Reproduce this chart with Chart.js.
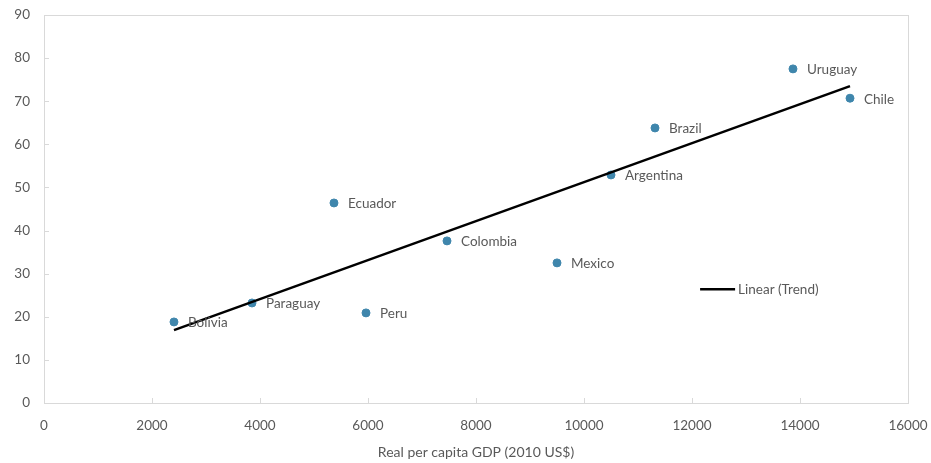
<!DOCTYPE html>
<html>
<head>
<meta charset="utf-8">
<script src="https://cdn.jsdelivr.net/npm/chart.js@4.4.0/dist/chart.umd.min.js"></script>
<style>
  html, body { margin: 0; padding: 0; background: #fff; }
  #wrap { width: 931px; height: 463px; position: relative; }
</style>
</head>
<body>
<div id="wrap"><canvas id="chart"></canvas></div>
<script>
// Country scatter: GDP per capita vs. indicator
const countries = ['Bolivia', 'Paraguay', 'Ecuador', 'Peru', 'Colombia', 'Mexico', 'Argentina', 'Brazil', 'Uruguay', 'Chile'];
const gdp       = [2407, 3852, 5370, 5963, 7463, 9500, 10500, 11315, 13870, 14926];
const values    = [18.8, 23.2, 46.4, 20.9, 37.6, 32.5, 52.9, 63.8, 77.5, 70.7];

// Linear trend end points
const trendX = [2407, 14926];
const trendY = [16.9, 73.5];

const xTicks = [0, 2000, 4000, 6000, 8000, 10000, 12000, 14000, 16000];
const yTicks = [0, 10, 20, 30, 40, 50, 60, 70, 80, 90];

const FONT = 'Lato, "Open Sans", sans-serif';
const TEXT = '#595959';
const AXIS = '#d9d9d9';
const DOT  = '#3f86ac';

// Point labels, inner tick marks, plot box and the trend legend
const decor = {
    id: 'decor',
    afterDatasetsDraw(chart) {
        const { ctx, chartArea: a, scales: { x, y } } = chart;
        ctx.save();
        ctx.strokeStyle = AXIS;
        ctx.lineWidth = 1;
        ctx.strokeRect(a.left + 0.5, a.top + 0.5, a.right - a.left, a.bottom - a.top);
        ctx.beginPath();
        xTicks.forEach(v => {
            const px = Math.round(x.getPixelForValue(v)) + 0.5;
            ctx.moveTo(px, a.bottom); ctx.lineTo(px, a.bottom - 5);
        });
        yTicks.forEach(v => {
            const py = Math.round(y.getPixelForValue(v)) + 0.5;
            ctx.moveTo(a.left, py); ctx.lineTo(a.left + 5, py);
        });
        ctx.stroke();

        ctx.font = '13.5px ' + FONT;
        ctx.fillStyle = TEXT;
        ctx.textBaseline = 'middle';
        ctx.textAlign = 'left';
        countries.forEach((c, i) => {
            ctx.fillText(c, x.getPixelForValue(gdp[i]) + 14, y.getPixelForValue(values[i]) + 1);
        });

        // legend entry inside the plot
        const lx = x.getPixelForValue(12150), ly = y.getPixelForValue(26.4);
        ctx.strokeStyle = '#000';
        ctx.lineWidth = 2.5;
        ctx.beginPath();
        ctx.moveTo(lx, ly); ctx.lineTo(lx + 35, ly);
        ctx.stroke();
        ctx.fillText('Linear (Trend)', lx + 38, ly);
        ctx.restore();
    }
};

new Chart(document.getElementById('chart'), {
    type: 'scatter',
    data: {
        datasets: [
            {
                label: 'Linear (Trend)',
                type: 'line',
                data: trendX.map((v, i) => ({ x: v, y: trendY[i] })),
                borderColor: '#000',
                borderWidth: 2.5,
                pointRadius: 0,
                fill: false,
                order: 1,
            },
            {
                label: 'Countries',
                data: gdp.map((v, i) => ({ x: v, y: values[i] })),
                backgroundColor: DOT,
                borderColor: DOT,
                pointRadius: 4,
                order: 2,
            },
        ],
    },
    options: {
        responsive: true,
        maintainAspectRatio: false,
        animation: false,
        layout: { padding: { top: 15, right: 23, left: 0, bottom: 0 } },
        plugins: { legend: { display: false }, tooltip: { enabled: false } },
        scales: {
            x: {
                type: 'linear',
                min: 0, max: 16000,
                afterBuildTicks(s) { s.ticks = xTicks.map(v => ({ value: v })); },
                afterFit(s) { s.height = 60; s.paddingLeft = 0; s.paddingRight = 0; },
                grid: { display: false, drawTicks: false },
                border: { display: false },
                ticks: { color: TEXT, font: { family: FONT, size: 13.5 }, padding: 15, callback: v => String(v) },
                title: {
                    display: true,
                    text: 'Real per capita GDP (2010 US$)',
                    color: TEXT,
                    font: { family: FONT, size: 14 },
                    padding: { top: 6, bottom: 2 },
                },
            },
            y: {
                min: 0, max: 90,
                afterBuildTicks(s) { s.ticks = yTicks.map(v => ({ value: v })); },
                afterFit(s) { s.width = 44; s.paddingTop = 0; s.paddingBottom = 0; },
                grid: { display: false, drawTicks: false },
                border: { display: false },
                ticks: { color: TEXT, font: { family: FONT, size: 13.5 }, padding: 14, callback: v => String(v) },
            },
        },
    },
    plugins: [decor],
});
</script>
</body>
</html>
